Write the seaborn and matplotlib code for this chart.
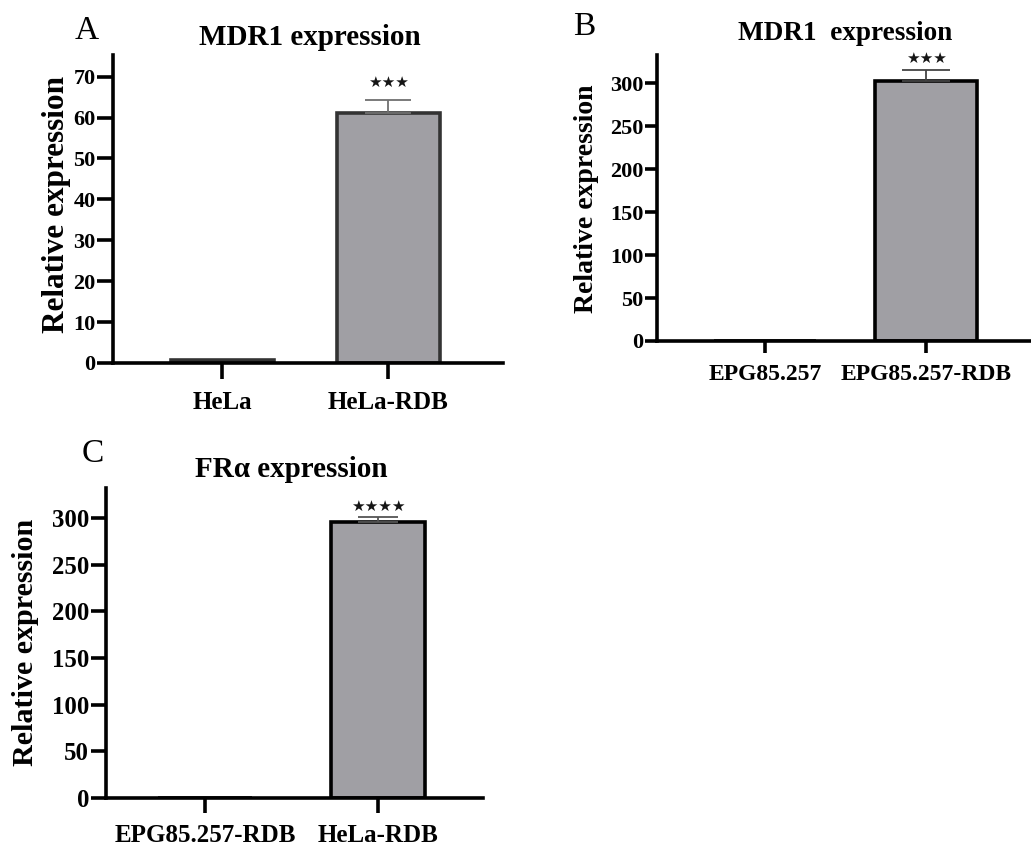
import matplotlib
matplotlib.use("Agg")
import matplotlib.pyplot as plt
import seaborn as sns
import pandas as pd
import numpy as np

# ---- data ----
a_cats = ["HeLa", "HeLa-RDB"]
a_vals = [0.8, 61.2]
a_err = [0.0, 3.2]
a_sig = "★★★"

b_cats = ["EPG85.257", "EPG85.257-RDB"]
b_vals = [0.5, 302.0]
b_err = [0.0, 13.0]
b_sig = "★★★"

c_cats = ["EPG85.257-RDB", "HeLa-RDB"]
c_vals = [0.5, 296.0]
c_err = [0.0, 5.0]
c_sig = "★★★★"

a_yticks = [0, 10, 20, 30, 40, 50, 60, 70]
bc_yticks = [0, 50, 100, 150, 200, 250, 300]

sns.set_style("ticks")
plt.rcParams["font.family"] = ["Liberation Serif", "DejaVu Serif"]
plt.rcParams["font.weight"] = "bold"
for k in ["text.color", "axes.labelcolor", "xtick.color", "ytick.color"]:
    plt.rcParams[k] = "black"

W, H = 1031, 848
fig = plt.figure(figsize=(W / 100, H / 100), dpi=100)


def px_axes(l, r, t, b):
    return fig.add_axes([l / W, 1 - b / H, (r - l) / W, (b - t) / H])


def panel(ax, cats, vals, errs, sig, yticks, ylim, xlim, width, edge, errcol,
          tick_fs, lab_fs, xlab_fs, title, title_fs, title_xy, ylab_xy,
          tick_len, xpad, sig_off):
    df = pd.DataFrame({"cat": cats, "val": vals})
    sns.barplot(data=df, x="cat", y="val", ax=ax, color="#a09fa4",
                edgecolor=edge, linewidth=2.6, width=width, errorbar=None,
                saturation=1)
    xs = np.arange(len(cats))
    for x, v, e in zip(xs, vals, errs):
        if e > 0:
            ax.errorbar([x], [v], yerr=[[0], [e]], fmt="none", ecolor=errcol,
                        elinewidth=1.3, capsize=width * 27, capthick=1.3,
                        zorder=1)
            ax.text(x, v + e + sig_off, sig, ha="center", va="bottom",
                    fontsize=11, color="#151515",
                    family=["DejaVu Sans"])
    ax.set_ylim(*ylim)
    ax.set_xlim(*xlim)
    ax.set_yticks(yticks)
    ax.set_yticklabels([str(t) for t in yticks], fontsize=tick_fs,
                       fontweight="bold")
    ax.set_xticks(xs)
    ax.set_xticklabels(cats, fontsize=xlab_fs, fontweight="bold")
    ax.set_xlabel("")
    ax.set_ylabel("Relative expression", fontsize=lab_fs, fontweight="bold")
    ax.yaxis.set_label_coords(*ylab_xy)
    for s in ["top", "right"]:
        ax.spines[s].set_visible(False)
    for s in ["left", "bottom"]:
        ax.spines[s].set_linewidth(2.6)
        ax.spines[s].set_color("black")
    ax.tick_params(axis="y", width=2.6, length=tick_len, pad=1, colors="black")
    ax.tick_params(axis="x", width=2.6, length=tick_len, pad=xpad,
                   colors="black")
    ax.text(title_xy[0], title_xy[1], title, transform=ax.transAxes,
            ha="center", va="baseline", fontsize=title_fs, fontweight="bold")


# Panel A
axA = px_axes(113, 503, 55, 363)
panel(axA, a_cats, a_vals, a_err, a_sig, a_yticks, (0, 75.3), (-0.657, 1.69),
      0.62, "#333333", "#707070", 16, 22.5, 18, "MDR1 expression", 21,
      (0.506, 1.032), (-0.108, 0.516), 11.5, 9, 2.3)

# Panel B
axB = px_axes(657, 1031, 55, 341)
panel(axB, b_cats, b_vals, b_err, b_sig, bc_yticks, (0, 332.6),
      (-0.67, 1.65), 0.63, "black", "#444444", 16, 20, 17,
      "MDR1  expression", 19.6, (0.503, 1.052), (-0.155, 0.498), 8.6, 8, 5.0)

# Panel C
axC = px_axes(106, 483, 488, 798)
panel(axC, c_cats, c_vals, c_err, c_sig, bc_yticks, (0, 332),
      (-0.572, 1.607), 0.54, "black", "#555555", 17.8, 21.7, 18,
      "FRα expression", 21, (0.492, 1.035), (-0.178, 0.503), 11, 8, 3.5)

# Panel letters
fig.text(75 / W, 1 - 39 / H, "A", fontsize=24, fontweight="normal",
         ha="left", va="baseline")
fig.text(573 / W, 1 - 35 / H, "B", fontsize=24, fontweight="normal",
         ha="left", va="baseline")
fig.text(82 / W, 1 - 462 / H, "C", fontsize=24, fontweight="normal",
         ha="left", va="baseline")

fig.savefig("out.png", dpi=100)
